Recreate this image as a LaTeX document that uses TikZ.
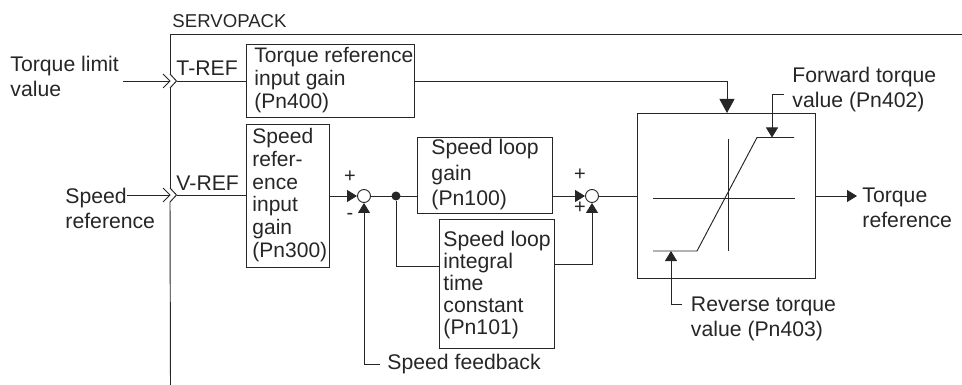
\documentclass[tikz,border=0pt]{standalone}
\usepackage{fontspec}
\setmainfont{Liberation Sans}
\usetikzlibrary{arrows.meta}

\tikzset{
    gainbox/.style={draw, inner sep=0pt, anchor=north west},
    boxtext/.style={inner sep=0pt, align=left, anchor=west},
    sign/.style={inner sep=0pt, font=\fontsize{20}{20}\selectfont},
    sumpoint/.style={draw, circle, fill=white, minimum size=13pt, inner sep=0pt},
    dotpoint/.style={fill, circle, minimum size=9pt, inner sep=0pt},
}

\begin{document}
\begin{tikzpicture}[x=1pt, y=-1pt, >={Triangle[length=10pt,width=12pt]}, line width=0.95pt, color=black!85]
    \useasboundingbox (0,0) rectangle (962,385);

    % servopack frame
    \coordinate (framebl) at (170.5,385);
    \coordinate (frametl) at (170,34);
    \coordinate (frametr) at (962,34);
    \coordinate (framet) at (170,74);
    \coordinate (frameva) at (170,88);
    \coordinate (framevb) at (170,188);
    \coordinate (framevc) at (170,202);
    \draw (framet) -- (frametl) -- (frametr);
    \draw (frameva) -- (framevb);
    \draw (framevc) -- (framebl);
    \node[boxtext, font=\fontsize{18.6}{20}\selectfont] (servopack) at (172,21) {SERVOPACK};

    % blocks
    \node[gainbox, minimum width=168pt, minimum height=73pt] (tgain) at (246,44) {};
    \node[boxtext, font=\fontsize{21}{23}\selectfont] (tgaintext) at (254,80) {Torque reference\\input gain\\(Pn400)};
    \node[gainbox, minimum width=83pt, minimum height=143pt] (vgain) at (246,124) {};
    \node[boxtext, font=\fontsize{21}{22.8}\selectfont] (vgaintext) at (252,195) {Speed\\refer-\\ence\\input\\gain\\(Pn300)};
    \node[gainbox, minimum width=135pt, minimum height=76pt] (pgain) at (417,137) {};
    \node[boxtext, font=\fontsize{21.2}{25.5}\selectfont] (pgaintext) at (431,175) {Speed loop\\gain\\(Pn100)};
    \node[gainbox, minimum width=115pt, minimum height=129pt] (igain) at (439,219) {};
    \node[boxtext, font=\fontsize{21.2}{22}\selectfont] (igaintext) at (443,285) {Speed loop\\integral\\time\\constant\\(Pn101)};
    \node[gainbox, minimum width=178pt, minimum height=165pt] (limiter) at (637,113) {};

    % summing points
    \node[sumpoint] (sumone) at (364,196) {};
    \node[sumpoint] (sumtwo) at (592,196) {};
    \node[dotpoint] (branch) at (396,196) {};
    \node[sign] (plusa) at (350,177) {+};
    \node[sign] (minusa) at (350,216) {-};
    \node[sign] (plusb) at (580,175) {+};
    \node[sign] (plusc) at (580,208) {+};

    % outer labels
    \tikzset{every node/.append style={boxtext, font=\fontsize{21.2}{25}\selectfont}}
    \node (tlimit) at (10,76) {Torque limit\\value};
    \node (vref) at (65,208.5) {Speed\\reference};
    \node (tport) at (176,68) {T-REF};
    \node (vport) at (176,183) {V-REF};
    \node (fwd) at (792,89.5) {Forward torque\\value (Pn402)};
    \node (rev) at (690.5,318.5) {Reverse torque\\value (Pn403)};
    \node (tout) at (862,208) {Torque\\reference};
    \node (fb) at (387,364) {Speed feedback};

    % chevrons on the frame
    \foreach \yy/\nn in {81/t, 195/v} {
        \coordinate (\nn tip) at (176.5,\yy);
        \coordinate (\nn mid) at (170,\yy);
        \draw (163,\yy-7) -- (\nn mid) -- (163,\yy+7);
        \draw (170,\yy-7) -- (\nn tip) -- (170,\yy+7);
    }

    % connectors
    \coordinate (tstart) at (123,81);
    \coordinate (vstart) at (127,195);
    \draw (tstart) -- (tmid);
    \draw (vstart) -- (vmid);
    \draw (ttip) -- (tgain.west |- ttip);
    \draw (vtip) -- (vgain.west |- vtip);

    \draw[->] (vgain.east |- sumone) -- (sumone.west);
    \draw (sumone) -- (pgain.west |- sumone);
    \draw[->] (pgain.east |- sumtwo) -- (sumtwo.west);
    \draw (sumtwo) -- (limiter.west |- sumtwo);
    \draw (branch) |- (igain.west |- 0,266);
    \draw[->] (igain.east |- 0,264) -| (sumtwo.south);
    \draw[->] (fb.west) ++(-7,0) -| (sumone.south);

    \draw[->, >={Triangle[length=14pt,width=15pt]}] (tgain.east |- 0,81) -| (limiter.north -| 727,0);
    \draw[->] (limiter.east |- 0,196) -- (857,196);

    % limiter curve
    \draw (653,198) -- (795,198);
    \draw (728,139) -- (728,251);
    \draw (653,251) -- (697,251) -- (757,137.5) -- (794,137.5);
    \coordinate (fwdhead) at (772,137.5);
    \coordinate (revhead) at (671,251);
    \draw[->] (784,94) -| (fwdhead);
    \draw[->] (682,304) -| (revhead);
\end{tikzpicture}
\end{document}
